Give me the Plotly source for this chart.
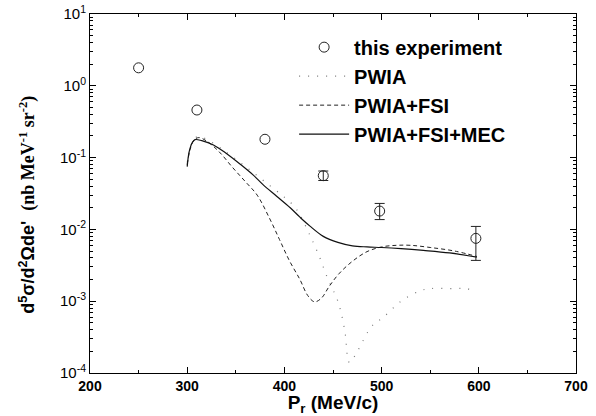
import plotly.graph_objects as go

# ---- data ----
exp_x = [250, 310, 380, 440, 498, 597]
exp_y = [1.78, 0.46, 0.18, 0.056, 0.018, 0.0075]
exp_err_plus = [None, None, None, 0.009, 0.005, 0.0035]
exp_err_minus = [None, None, None, 0.008, 0.0043, 0.0038]

pwia_x = [300, 305, 310, 316, 325, 340, 360, 380, 400, 410, 416, 425, 435, 445, 455, 462, 467,
          475, 490, 502, 520, 540, 551, 570, 585, 598]
pwia_y = [0.085, 0.16, 0.195, 0.19, 0.165, 0.12, 0.075, 0.046, 0.028, 0.021, 0.016, 0.009, 0.0045,
          0.002, 0.001, 0.0004, 0.00014, 0.0002, 0.00045, 0.0006, 0.001, 0.0014, 0.0015, 0.0015,
          0.0015, 0.0014]

fsi_x = [300, 303, 307, 312, 320, 333, 347, 360, 372, 385, 395, 405, 416, 424, 431, 438, 446, 456,
         470, 485, 500, 515, 530, 550, 575, 598]
fsi_y = [0.08, 0.13, 0.175, 0.19, 0.17, 0.12, 0.072, 0.046, 0.03, 0.014, 0.0072, 0.0037, 0.002,
         0.0012, 0.00098, 0.0011, 0.0016, 0.0024, 0.0036, 0.0049, 0.0057, 0.006, 0.006, 0.0056,
         0.005, 0.0042]

mec_x = [300, 302, 305, 308, 315, 327, 340, 355, 368, 378, 392, 406, 416, 426, 440, 455, 470, 485,
         500, 520, 543, 570, 598]
mec_y = [0.075, 0.12, 0.16, 0.178, 0.172, 0.15, 0.115, 0.08, 0.057, 0.042, 0.029, 0.020, 0.0148,
         0.0112, 0.0080, 0.0066, 0.0059, 0.0057, 0.0056, 0.0054, 0.0051, 0.0047, 0.0041]

y_tickvals = [1e-4, 1e-3, 1e-2, 1e-1, 1, 10]
y_ticktext = ["10<sup>-4</sup>", "10<sup>-3</sup>", "10<sup>-2</sup>", "10<sup>-1</sup>",
              "10<sup>0</sup>", "10<sup>1</sup>"]
x_tickvals = [200, 300, 400, 500, 600, 700]

FONT = "Liberation Sans, Arial, sans-serif"

# points that carry error bars
eb_idx = [i for i, e in enumerate(exp_err_plus) if e is not None]

fig = go.Figure()
fig.add_trace(go.Scatter(x=pwia_x, y=pwia_y, mode="lines", name="PWIA", legendrank=2,
                         line=dict(color="#777777", width=1.2, dash="1px,8px", shape="spline")))
fig.add_trace(go.Scatter(x=fsi_x, y=fsi_y, mode="lines", name="PWIA+FSI", legendrank=3,
                         line=dict(color="#222222", width=1, dash="4px,3px", shape="spline")))
fig.add_trace(go.Scatter(x=mec_x, y=mec_y, mode="lines", name="PWIA+FSI+MEC", legendrank=4,
                         line=dict(color="#111111", width=1.2, shape="spline")))
fig.add_trace(go.Scatter(x=[exp_x[i] for i in eb_idx], y=[exp_y[i] for i in eb_idx],
                         mode="markers", showlegend=False, hoverinfo="skip",
                         marker=dict(size=1, opacity=0),
                         error_y=dict(type="data", symmetric=False,
                                      array=[exp_err_plus[i] for i in eb_idx],
                                      arrayminus=[exp_err_minus[i] for i in eb_idx],
                                      color="#222222", thickness=1, width=5)))
fig.add_trace(go.Scatter(x=exp_x, y=exp_y, mode="markers", name="this experiment", legendrank=1,
                         marker=dict(symbol="circle-open", size=10, color="#222222",
                                     line=dict(width=1, color="#222222"))))

axis_common = dict(showline=True, linecolor="black", linewidth=1, mirror="allticks",
                   ticks="inside", tickcolor="black", showgrid=False, zeroline=False,
                   automargin=False)

fig.update_xaxes(range=[200, 700], tickvals=x_tickvals, ticklen=6,
                 minor=dict(ticks="inside", ticklen=3, dtick=50, tickcolor="black"),
                 tickfont=dict(family=FONT, size=14, color="black", weight="bold"),
                 title=dict(text="P<sub>r</sub> (MeV/c)", standoff=3,
                            font=dict(family=FONT, size=19, color="black", weight="bold")),
                 **axis_common)
fig.update_yaxes(type="log", range=[-4, 1], tickvals=y_tickvals, ticktext=y_ticktext,
                 ticklen=6,
                 minor=dict(ticks="inside", ticklen=3, tickcolor="black", dtick="D1"),
                 tickfont=dict(family=FONT, size=15, color="black"),
                 **axis_common)

fig.add_annotation(
    text="d<sup>5</sup>σ/d<sup>2</sup>Ωde'  <span style='font-family:Liberation Serif'>(nb MeV<sup>-1</sup> sr<sup>-2</sup>)</span>",
    xref="paper", yref="paper", x=-0.128, y=0.468, textangle=-90, showarrow=False,
    xanchor="center", yanchor="middle",
    font=dict(family=FONT, size=18, color="black", weight="bold"))

fig.update_layout(
    width=596, height=416,
    margin=dict(l=90, r=20, t=14, b=43),
    paper_bgcolor="white", plot_bgcolor="white",
    showlegend=True,
    legend=dict(x=0.42, y=0.962, xanchor="left", yanchor="top", bgcolor="rgba(0,0,0,0)",
                font=dict(family=FONT, size=20, color="black", weight="bold"),
                itemwidth=50, tracegroupgap=0),
)

fig.write_html("out.html", config={"displayModeBar": False},
               post_script="document.body.style.margin='0';")
